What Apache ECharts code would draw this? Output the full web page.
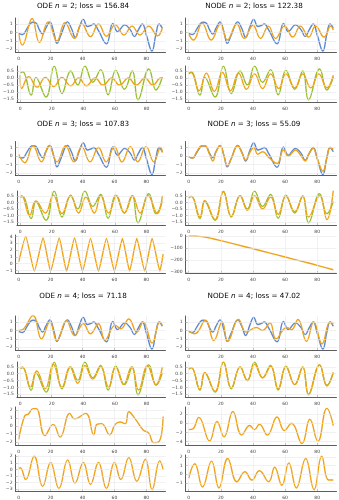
<!DOCTYPE html>
<html><head><meta charset="utf-8">
<script src="https://cdn.jsdelivr.net/npm/echarts@6/dist/echarts.min.js"></script>
<style>html,body{margin:0;padding:0;background:#fff}#c{width:339px;height:500px}</style>
</head><body><div id="c"></div>
<script>
// ---------- data ----------
const xTickValues = [0, 20, 40, 60, 80];
const titlesLeft = [["ODE ", "n", " = 2; loss = 156.84"], ["ODE ", "n", " = 3; loss = 107.83"], ["ODE ", "n", " = 4; loss = 71.18"]];
const titlesRight = [["NODE ", "n", " = 2; loss = 122.38"], ["NODE ", "n", " = 3; loss = 55.09"], ["NODE ", "n", " = 4; loss = 47.02"]];

const truePos = [[0,-0.1],[2.5,-0.25],[5,0.4],[7.5,1.1],[9,1.2],[11,1.1],[13,0.3],[15,-0.2],[17,0.5],[19.5,1.25],[22,0],[24,-1.3],[26.5,-0.3],[30.5,1.25],[33,0.5],[35.5,-0.6],[38,0.6],[40.5,1.55],[43,0.7],[45,0.8],[47,1.0],[50,0.2],[55,-1.35],[59,1.05],[62,0.1],[66.5,0.9],[70,0.3],[72.5,-0.5],[75,0.3],[77.5,1.0],[80,-0.3],[83.5,-2.2],[86,-0.2],[88,1.0],[90,0.5]];
const trueVel = [[0,0.35],[1.7,0.45],[7,-1.22],[10,0.05],[16.4,-1.35],[21.6,0.85],[26.5,-1.1],[32,0.5],[36.5,-0.5],[41,0.85],[46,-0.3],[51,0.6],[55.7,-1.2],[60.5,0.55],[66,-0.8],[71,0.5],[74.6,-1.55],[81.5,0.65],[86,-0.85],[90,0.07]];

const odeN2Pos = [[0,-0.1],[2.3,-1.5],[8.4,1.65],[13,-1.2],[18.5,1.25],[24,-1.0],[29,1.15],[35,-0.7],[39.5,1.05],[45,-0.5],[50,1.0],[55,-0.45],[60.5,0.9],[66,-0.3],[71,0.75],[76,-0.3],[81.5,0.75],[87,-0.4],[90,0.5]];
const odeN2Vel = [[0,0.2],[1,-0.75],[5.5,0.1],[10.7,-0.65],[16,0.05],[21.3,-0.6],[26.5,0.05],[32,-0.55],[37,0.0],[42,-0.55],[47.5,0.0],[52.5,-0.5],[58,0.0],[63,-0.5],[68.5,0.0],[73.5,-0.5],[79,0.0],[84,-0.5],[89,0.0],[90,-0.05]];
const nodeN2Pos = [[0,-0.2],[3,-0.9],[8.4,1.1],[14,-0.9],[19.7,1.0],[24,-0.9],[30,1.0],[34.5,-0.7],[40,0.85],[44.7,-0.7],[49.6,0.75],[54,-0.7],[59.7,0.75],[64.8,-0.55],[69.5,0.75],[74.7,-0.55],[79,0.75],[84.3,-0.55],[88.4,0.75],[90,0.3]];
const nodeN2Vel = [[0,0.3],[1.5,0.4],[6.5,-0.9],[11,0.35],[16,-0.95],[21,0.4],[26,-0.9],[31,0.35],[36,-0.8],[41,0.3],[46,-0.75],[51,0.3],[56,-0.75],[60.5,0.3],[66,-0.7],[71,0.3],[76,-0.7],[81,0.3],[86,-0.7],[90,0.2]];

const odeN3Pos = [[0,0.2],[3.8,-0.8],[9,1.2],[14.3,-0.7],[19,1.2],[24,-0.7],[29.4,1.2],[34.6,-0.7],[39.5,1.1],[44.7,-0.7],[50,1.0],[54.8,-0.7],[60,1.1],[64.7,-0.7],[70,1.1],[74.6,-0.7],[79.8,1.1],[84.7,-0.7],[89,1.0],[90,0.4]];
const odeN3Vel = [[0,0.4],[1,0.5],[6,-1.0],[10,0.1],[16,-0.8],[21,0.55],[26.5,-0.85],[32,0.55],[37,-0.8],[41.6,0.4],[47,-0.8],[51,0.5],[56,-0.8],[61,0.5],[66,-0.8],[71,0.5],[76,-0.8],[81,0.5],[86.8,-0.85],[90,0.5]];
const odeN3Hid = [[0,0.25],[4.4,4.0],[9.8,-1.1],[15.3,3.75],[20,-1.1],[25.4,3.75],[30,-1.1],[35,3.75],[40,-1.1],[45,3.7],[50,-1.1],[55,3.7],[60,-1.1],[65,3.7],[69.5,-1.1],[74,3.7],[79,-1.1],[83.6,3.7],[88.5,-1.1],[90.5,1.4]];
const nodeN3Pos = [[0,-0.1],[2.5,-0.25],[5,0.5],[8,1.2],[10,1.2],[13,0.2],[15,-0.6],[17,0.5],[19.5,1.2],[22,0],[24,-1.2],[26.5,-0.3],[30.5,1.2],[33,0.4],[35.5,-0.5],[38,0.4],[40.5,1.0],[43,0.2],[46,0.5],[50,-0.2],[55,-0.9],[59,0.7],[62,0.0],[66.5,0.7],[70,0.0],[72.5,-0.6],[75,0.3],[77.5,0.9],[80,-0.3],[83.5,-1.8],[86,-0.2],[88,1.0],[90,0.8]];
const nodeN3Vel = [[0,0.35],[1.7,0.45],[7,-1.1],[10,0.15],[16.4,-1.3],[21.6,0.8],[26.5,-1.05],[32,0.5],[36.5,-0.6],[41,0.5],[46,-0.5],[51,0.4],[55.7,-0.9],[60.5,0.45],[66,-0.7],[71,0.45],[74.6,-1.1],[81.5,0.5],[86,-1.3],[90,0.9]];
const nodeN3Hid = [[0,0],[5,-2],[10,-8],[15,-22],[20,-38],[30,-72],[40,-106],[50,-140],[60,-175],[70,-210],[80,-245],[90,-282]];

const odeN4Pos = [[0,0],[2.5,0.1],[9,1.75],[14.3,-1.0],[19.5,1.0],[24,-1.2],[30,1.15],[35,-0.6],[40.5,0.8],[45,-0.4],[50,0.8],[54,-1.15],[60.5,0.6],[64,0.2],[69,1.35],[74,-0.2],[78,1.0],[83.6,-1.5],[88.4,1.0],[90,0.6]];
const odeN4Vel = [[0,0.4],[1.5,0.5],[6.5,-1.0],[10.5,0.2],[16,-1.1],[21,0.7],[26.5,-1.0],[31.5,0.5],[36.5,-0.7],[41,0.6],[46,-0.4],[51,0.5],[56,-1.0],[60.5,0.5],[65.5,-0.8],[70.5,0.5],[75,-1.2],[80.5,0.6],[86,-0.8],[90,0.5]];
const odeN4Hid1 = [[0,-1.7],[3.8,1.3],[6,1.5],[9,2.2],[11,2.2],[16.4,-1.2],[21.6,0.2],[26,-1.4],[32,1.6],[35,0.9],[42,1.6],[47,-1.1],[49,0.2],[52,0.3],[57,-1.1],[60.5,0.2],[63.5,0.5],[66.8,0.3],[69,1.8],[73,0.9],[78,-0.5],[81.5,-0.9],[84.6,-2.1],[87.8,-2.0],[90.5,1.2]];
const odeN4Hid2 = [[0,0.15],[1,0.25],[4.4,-1.55],[9.7,2.0],[15,-2.6],[20,1.05],[25.2,-2.9],[30.7,1.45],[35.3,-2.1],[40.5,1.05],[45,-2.3],[50,1.05],[55,-2.9],[60,1.05],[64,-1.55],[69,1.8],[74,-1.8],[79.4,1.55],[83.6,-3.1],[88.4,1.3],[90.5,0]];
const nodeN4Pos = [[0,-0.1],[3.7,-0.4],[10.5,1.2],[15.6,-1.2],[20.8,1.0],[24.3,-1.3],[31,1.3],[35.8,-0.2],[42,0.35],[46,0.0],[50.6,0.9],[54.3,-1.0],[61,0.35],[64,0.1],[68,1.3],[73.3,-1.3],[77.8,1.0],[83,-1.6],[88,1.0],[90,0.75]];
const nodeN4Vel = [[0,0.35],[1.7,0.45],[7,-1.15],[10,0.1],[16.4,-1.3],[21.6,0.85],[26.5,-1.05],[32,0.5],[36.5,-0.5],[41,0.7],[46,-0.3],[51,0.55],[55.7,-1.1],[60.5,0.5],[66,-0.8],[71,0.5],[74.6,-1.5],[81.5,0.65],[86,-0.9],[90,0.1]];
const nodeN4Hid1 = [[0,-1.4],[2.7,-1.2],[6.3,1.3],[13,-3.9],[17.6,0.4],[22,-3.0],[27.5,2.6],[33,-2.6],[38,-0.5],[41,-1.4],[44,-0.2],[49,-2.6],[55,1.4],[59.5,-1.6],[64,0.0],[70.5,-4.5],[75.4,0.9],[80.4,-4.0],[86,3.3],[90,-0.5]];
const nodeN4Hid2 = [[0,-0.45],[3.8,1.2],[8.6,-1.45],[14.2,1.5],[18.8,-1.55],[24.3,1.8],[30,-0.85],[35,0.3],[39.3,-0.65],[44,0.4],[49.8,-0.85],[53.5,0.8],[58,-1.25],[62.3,1.3],[67,-1.55],[72.8,1.8],[78,-1.75],[82.8,2.05],[87,-0.65],[90,-0.65]];

// ---------- layout ----------
const BLUE = '#5A87D0', ORANGE = '#F0A216', GREEN = '#96BE2A';
const cols = [{left: 15.5, width: 150, cx: 83}, {left: 185.5, width: 151, cx: 254}];
const rows = [
  {top: 18, h: 34}, {top: 66, h: 36},
  {top: 141.5, h: 34}, {top: 191, h: 34}, {top: 235, h: 38},
  {top: 316, h: 34}, {top: 362, h: 35}, {top: 407, h: 38}, {top: 455, h: 37}
];
const titleY = [6, 124, 296];
const posRange = {min: -2.32, max: 1.71, ticks: [-2, -1, 0, 1], dec: 0};
const velRange = {min: -1.71, max: 0.86, ticks: [-1.5, -1, -0.5, 0, 0.5], dec: 1};
const panels = [
  [0, 0, posRange, [[truePos, BLUE], [odeN2Pos, ORANGE]]],
  [0, 1, velRange, [[trueVel, GREEN], [odeN2Vel, ORANGE]]],
  [1, 0, posRange, [[truePos, BLUE], [nodeN2Pos, ORANGE]]],
  [1, 1, velRange, [[trueVel, GREEN], [nodeN2Vel, ORANGE]]],
  [0, 2, posRange, [[truePos, BLUE], [odeN3Pos, ORANGE]]],
  [0, 3, velRange, [[trueVel, GREEN], [odeN3Vel, ORANGE]]],
  [0, 4, {min: -1.38, max: 4.2, ticks: [-1, 0, 1, 2, 3, 4], dec: 0}, [[odeN3Hid, ORANGE, 0.15]]],
  [1, 2, posRange, [[truePos, BLUE], [nodeN3Pos, ORANGE]]],
  [1, 3, velRange, [[trueVel, GREEN], [nodeN3Vel, ORANGE]]],
  [1, 4, {min: -309, max: 9, ticks: [-300, -200, -100, 0], dec: 0}, [[nodeN3Hid, ORANGE]]],
  [0, 5, posRange, [[truePos, BLUE], [odeN4Pos, ORANGE]]],
  [0, 6, velRange, [[trueVel, GREEN], [odeN4Vel, ORANGE]]],
  [0, 7, {min: -2.4, max: 2.4, ticks: [-2, -1, 0, 1, 2], dec: 0}, [[odeN4Hid1, ORANGE]]],
  [0, 8, {min: -3.3, max: 2.2, ticks: [-3, -2, -1, 0, 1, 2], dec: 0}, [[odeN4Hid2, ORANGE]]],
  [1, 5, posRange, [[truePos, BLUE], [nodeN4Pos, ORANGE]]],
  [1, 6, velRange, [[trueVel, GREEN], [nodeN4Vel, ORANGE]]],
  [1, 7, {min: -4.8, max: 3.6, ticks: [-4, -2, 0, 2], dec: 0}, [[nodeN4Hid1, ORANGE]]],
  [1, 8, {min: -1.9, max: 2.2, ticks: [-1, 0, 1, 2], dec: 0}, [[nodeN4Hid2, ORANGE]]]
];

const fmt = (v, d) => { const s = Math.abs(v).toFixed(d); return (v < 0 ? '\u2212' : '') + s; };
const grid = [], xAxis = [], yAxis = [], series = [], graphic = [];
const axisLine = {show: true, onZero: false, lineStyle: {color: '#333', width: 0.8}};
const tickStyle = {show: true, inside: true, length: 2, lineStyle: {color: '#333', width: 0.6}};
panels.forEach((p, i) => {
  const [c, r, yr, ser] = p;
  grid.push({left: cols[c].left, width: cols[c].width, top: rows[r].top, height: rows[r].h, containLabel: false});
  xAxis.push({
    type: 'value', gridIndex: i, min: -2, max: 92, axisLine, splitLine: {show: false},
    axisTick: Object.assign({}, tickStyle, {customValues: xTickValues}),
    axisLabel: {customValues: xTickValues, fontSize: 4.5, color: '#444', margin: 4, fontFamily: 'DejaVu Sans'}
  });
  yAxis.push({
    type: 'value', gridIndex: i, min: yr.min, max: yr.max, axisLine, splitLine: {show: false},
    axisTick: Object.assign({}, tickStyle, {customValues: yr.ticks}),
    axisLabel: {customValues: yr.ticks, fontSize: 4.5, color: '#444', margin: 3, fontFamily: 'DejaVu Sans',
      formatter: v => fmt(v, yr.dec)}
  });
  series.push({
    type: 'line', xAxisIndex: i, yAxisIndex: i, data: [], silent: true,
    markLine: {silent: true, symbol: 'none', label: {show: false}, animation: false,
      lineStyle: {color: '#e8e8e8', width: 0.6, type: 'solid'},
      data: xTickValues.map(v => ({xAxis: v})).concat(yr.ticks.map(v => ({yAxis: v})))}
  });
  ser.forEach(([d, col, sm]) => {
    series.push({type: 'line', xAxisIndex: i, yAxisIndex: i, data: d, smooth: sm === undefined ? 0.45 : sm,
      showSymbol: false, symbol: 'none', lineStyle: {color: col, width: 1.4}, itemStyle: {color: col}, animation: false});
  });
});
const richT = {a: {fontSize: 7.2, color: '#222', fontFamily: 'DejaVu Sans'}, i: {fontSize: 7.2, color: '#222', fontStyle: 'italic', fontFamily: 'DejaVu Sans'}};
[titlesLeft, titlesRight].forEach((ts, c) => ts.forEach((t, g) => {
  graphic.push({type: 'text', x: cols[c].cx, y: titleY[g], style: {
    text: '{a|' + t[0] + '}{i|' + t[1] + '}{a|' + t[2] + '}', rich: richT, align: 'center', verticalAlign: 'middle'}});
}));
const chart = echarts.init(document.getElementById('c'), null, {renderer: 'canvas'});
chart.setOption({animation: false, grid, xAxis, yAxis, series, graphic});
</script></body></html>
